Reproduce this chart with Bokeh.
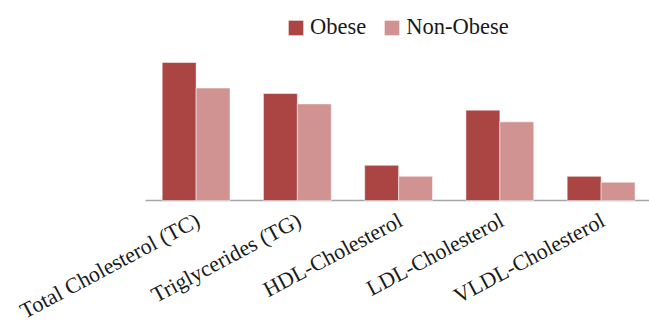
import math
from bokeh.plotting import figure
from bokeh.models import (Range1d, ColumnDataSource, Legend, LegendItem, LabelSet)
from bokeh.embed import file_html
from bokeh.resources import INLINE

categories = ["Total Cholesterol (TC)", "Triglycerides (TG)", "HDL-Cholesterol",
              "LDL-Cholesterol", "VLDL-Cholesterol"]
obese = [200, 155, 51, 131, 35]
non_obese = [163, 140, 35, 114, 26.5]

idx = list(range(len(categories)))
off = 0.1675
bw = 0.335
src = ColumnDataSource(dict(
    xo=[i - off for i in idx], xn=[i + off for i in idx],
    obese=obese, non_obese=non_obese))

# the frame covers the whole canvas so the slanted category labels can sit below the baseline
p = figure(width=649, height=324, output_backend="svg", toolbar_location=None,
           x_range=Range1d(-1.932, 4.478), y_range=Range1d(-179.7, 289.9),
           min_border_left=0, min_border_right=0, min_border_top=0,
           min_border_bottom=0, x_axis_location=None, y_axis_location=None)
p.outline_line_color = None
p.grid.visible = False

# category axis baseline, spanning the category slots
p.segment(x0=[idx[0] - 0.5], x1=[idx[-1] + 0.5], y0=[0], y1=[0],
          line_color="#a6a6a9", line_width=1.5)

r1 = p.vbar(x="xo", top="obese", width=bw, source=src, fill_color="#aa4543",
            line_color="#ffffff", line_width=0.5)
r2 = p.vbar(x="xn", top="non_obese", width=bw, source=src, fill_color="#d09392",
            line_color="#ffffff", line_width=0.5)

lab_src = ColumnDataSource(dict(x=idx, y=[0] * len(idx), text=categories))
labels = LabelSet(x="x", y="y", text="text", source=lab_src,
                  angle=math.radians(28), text_align="right", text_baseline="middle",
                  x_offset=2, y_offset=-18,
                  text_font="Liberation Serif", text_font_size="22px",
                  text_color="#1a1a1a")
p.add_layout(labels)

legend = Legend(items=[LegendItem(label="Obese", renderers=[r1]),
                       LegendItem(label="Non-Obese", renderers=[r2])],
                orientation="horizontal", location=(286, 284),
                padding=0, margin=0, spacing=16, label_standoff=5,
                glyph_width=19, glyph_height=19, label_height=19,
                label_text_font="Liberation Serif", label_text_font_size="22.5px",
                label_text_color="#1a1a1a", border_line_color=None,
                background_fill_alpha=0)
p.add_layout(legend)

open("out.html", "w").write(file_html(p, INLINE))
